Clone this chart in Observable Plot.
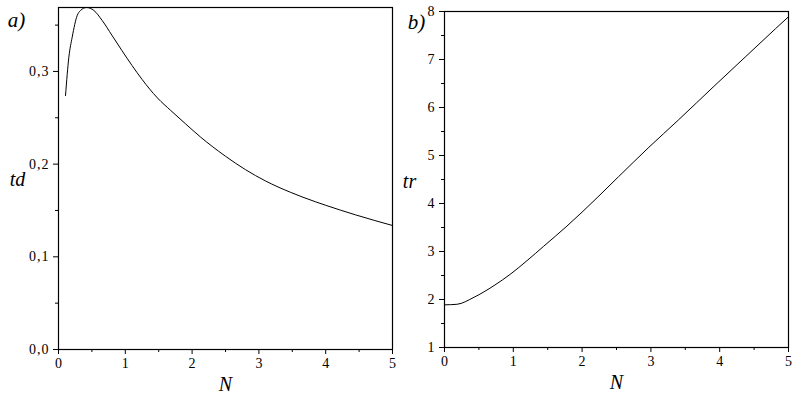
<!DOCTYPE html>
<html>
<head>
<meta charset="utf-8">
<script src="https://cdn.jsdelivr.net/npm/d3@7"></script>
<script src="https://cdn.jsdelivr.net/npm/@observablehq/plot@0.6"></script>
<style>
  html, body { margin: 0; padding: 0; background: #fff; }
  #wrap { position: relative; width: 805px; height: 401px; overflow: hidden; background: #fff; }
  #left { position: absolute; left: 0; top: 0; }
  #right { position: absolute; left: 400px; top: 0; }
  #wrap svg, #wrap svg text { font-family: "Liberation Serif", "Times New Roman", "DejaVu Serif", serif !important; }
  #wrap svg { font-size: 14px !important; background: #fff; overflow: visible; }
  #left g[aria-label="y-axis tick label"] text { letter-spacing: 1px; }
</style>
</head>
<body>
<div id="wrap"><div id="left"></div><div id="right"></div></div>
<script>
// ---- Panel a): td vs N ----
const nTd = [0.105, 0.155, 0.205, 0.28, 0.33, 0.42, 0.53, 0.654, 0.80, 0.95, 1.10, 1.25, 1.48, 1.68, 1.90, 2.13, 2.30, 2.5, 2.8, 3.1, 3.47, 3.85, 4.0, 4.45, 5.0];
const tdValues = [0.274, 0.3154, 0.337, 0.3604, 0.3658, 0.369, 0.3658, 0.355, 0.339, 0.3225, 0.3065, 0.2915, 0.2715, 0.2579, 0.2436, 0.2290, 0.2192, 0.2085, 0.1940, 0.1818, 0.1697, 0.1593, 0.1556, 0.1452, 0.1338];

// ---- Panel b): tr vs N ----
const nTr = [0, 0.18, 0.43, 0.72, 0.96, 1.2, 1.442, 1.78, 2.218, 2.531, 2.97, 3.40, 3.93, 4.37, 4.81, 5.0];
const trValues = [1.889, 1.90, 2.047, 2.29, 2.53, 2.81, 3.11, 3.53, 4.12, 4.56, 5.17, 5.74, 6.46, 7.05, 7.64, 7.89];

// ---- Ticks ----
const xTicks = [0, 1, 2, 3, 4, 5];
const xMinorTicks = [0.5, 1.5, 2.5, 3.5, 4.5];
const tdTicks = [0, 0.1, 0.2, 0.3];
const tdTickLabels = ["0,0", "0,1", "0,2", "0,3"];
const tdMinorTicks = [0.05, 0.15, 0.25, 0.35];
const trTicks = [1, 2, 3, 4, 5, 6, 7, 8];
const trMinorTicks = [1.5, 2.5, 3.5, 4.5, 5.5, 6.5, 7.5];

const tdRows = nTd.map((n, i) => ({N: n, v: tdValues[i]}));
const trRows = nTr.map((n, i) => ({N: n, v: trValues[i]}));

const FONT = "Liberation Serif";
const lbl = {fontStyle: "italic", textAnchor: "middle", lineAnchor: "middle", fill: "black", fontFamily: FONT};
const tickText = {fontSize: 14, fontFamily: FONT, fill: "black", stroke: "black"};

const left = Plot.plot({
  width: 400, height: 401,
  marginLeft: 58, marginRight: 8, marginTop: 7, marginBottom: 52,
  style: {"font-family": FONT, "font-size": "14px"},
  x: {domain: [0, 5]},
  y: {domain: [0, 0.369]},
  marks: [
    Plot.axisX({...tickText, ticks: xTicks, tickSize: 5, tickPadding: 4, tickFormat: d => String(d), label: null}),
    Plot.axisX({ticks: xMinorTicks, tickSize: 3, text: null, label: null, stroke: "black"}),
    Plot.axisY({...tickText, ticks: tdTicks, tickSize: 5, tickPadding: 4, tickFormat: (d, i) => tdTickLabels[i], label: null}),
    Plot.axisY({ticks: tdMinorTicks, tickSize: 3, text: null, label: null, stroke: "black"}),
    Plot.frame({stroke: "black", strokeWidth: 1.2}),
    Plot.line(tdRows, {x: "N", y: "v", stroke: "black", strokeWidth: 1, curve: "monotone-x"}),
    Plot.text(["a)"], {...lbl, frameAnchor: "top-left", dx: -42, dy: 13, fontSize: 21}),
    Plot.text(["td"], {...lbl, frameAnchor: "left", dx: -41, dy: 1, fontSize: 20}),
    Plot.text(["N"], {...lbl, frameAnchor: "bottom", dy: 35, fontSize: 20})
  ]
});

const right = Plot.plot({
  width: 405, height: 401,
  marginLeft: 44, marginRight: 17, marginTop: 11, marginBottom: 54,
  style: {"font-family": FONT, "font-size": "14px"},
  x: {domain: [0, 5]},
  y: {domain: [1, 8]},
  marks: [
    Plot.axisX({...tickText, ticks: xTicks, tickSize: 5, tickPadding: 4, tickFormat: d => String(d), label: null}),
    Plot.axisX({ticks: xMinorTicks, tickSize: 3, text: null, label: null, stroke: "black"}),
    Plot.axisY({...tickText, ticks: trTicks, tickSize: 5, tickPadding: 5, tickFormat: d => String(d), label: null}),
    Plot.axisY({ticks: trMinorTicks, tickSize: 3, text: null, label: null, stroke: "black"}),
    Plot.frame({stroke: "black", strokeWidth: 1.2}),
    Plot.line(trRows, {x: "N", y: "v", stroke: "black", strokeWidth: 1, curve: "monotone-x"}),
    Plot.text(["b)"], {...lbl, frameAnchor: "top-left", dx: -28, dy: 11, fontSize: 21}),
    Plot.text(["tr"], {...lbl, frameAnchor: "left", dx: -35, dy: 2, fontSize: 20}),
    Plot.text(["N"], {...lbl, frameAnchor: "bottom", dy: 35, fontSize: 20})
  ]
});

document.getElementById("left").appendChild(left);
document.getElementById("right").appendChild(right);
</script>
</body>
</html>
